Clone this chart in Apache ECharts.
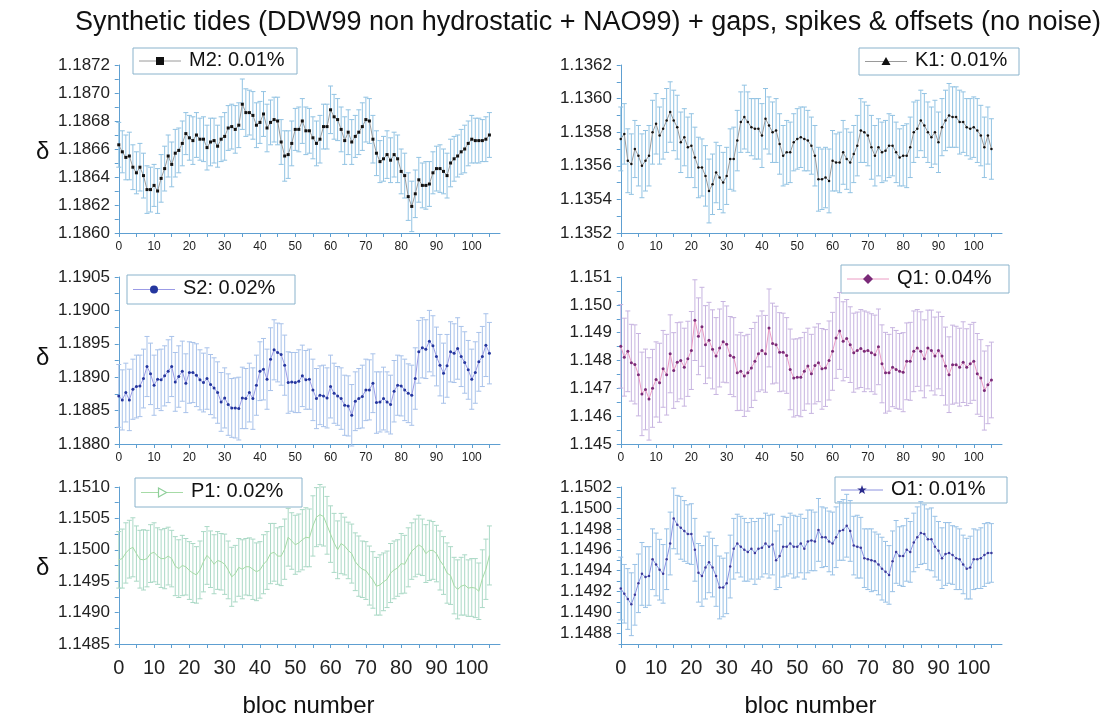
<!DOCTYPE html>
<html><head><meta charset="utf-8">
<script src="https://cdn.jsdelivr.net/npm/echarts@6/dist/echarts.min.js"></script>
<style>html,body{margin:0;padding:0;background:#fff}#c{width:1106px;height:719px}</style>
</head><body><div id="c"></div><script>
const titleText = 'Synthetic tides (DDW99 non hydrostatic + NAO99) + gaps, spikes & offsets (no noise)';
const xTickLabels = [0,10,20,30,40,50,60,70,80,90,100];
const xMinorTicks = [0,5,10,15,20,25,30,35,40,45,50,55,60,65,70,75,80,85,90,95,100,105];

const m2Name = 'M2: 0.01%';
const m2Values = [1.18663,1.18658,1.18654,1.18655,1.18647,1.18643,1.18647,1.18641,1.18631,1.18631,
1.18634,1.18630,1.18639,1.18646,1.18655,1.18649,1.18657,1.18659,1.18664,1.18671,
1.18668,1.18666,1.18670,1.18667,1.18667,1.18661,1.18665,1.18666,1.18662,1.18667,
1.18669,1.18675,1.18676,1.18674,1.18677,1.18692,1.18686,1.18686,1.18684,1.18677,
1.18679,1.18685,1.18675,1.18679,1.18681,1.18680,1.18665,1.18655,1.18656,1.18664,
1.18674,1.18674,1.18680,1.18673,1.18673,1.18668,1.18664,1.18667,1.18676,1.18676,
1.18688,1.18683,1.18681,1.18674,1.18666,1.18672,1.18665,1.18669,1.18672,1.18676,
1.18681,1.18680,1.18667,1.18657,1.18651,1.18653,1.18656,1.18652,1.18656,1.18653,
1.18644,1.18641,1.18626,1.18619,1.18628,1.18638,1.18634,1.18634,1.18635,1.18643,
1.18646,1.18646,1.18644,1.18641,1.18650,1.18653,1.18655,1.18658,1.18660,1.18664,
1.18667,1.18666,1.18666,1.18666,1.18667,1.18670];
const m2ErrE5 = [16,15,16,17,16,15,17,16,17,16,15,16,17,16,15,16,17,16,16,15,16,17,16,15,16,16,17,16,15,16,
17,16,16,17,16,18,17,16,17,16,15,16,17,16,16,17,16,18,17,16,15,16,16,17,16,15,16,17,16,16,
17,16,15,16,17,16,16,15,16,17,16,16,17,16,15,16,17,16,16,17,16,16,17,18,17,16,16,17,16,15,
16,17,16,16,17,16,15,16,17,16,17,16,16,15,16,16];
const m2YTicks = [1.1860,1.1862,1.1864,1.1866,1.1868,1.1870,1.1872];

const k1Name = 'K1: 0.01%';
const k1Values = [1.13576,1.13579,1.13563,1.13561,1.13570,1.13566,1.13560,1.13563,1.13566,1.13580,
1.13585,1.13578,1.13582,1.13587,1.13592,1.13587,1.13583,1.13574,1.13577,1.13571,
1.13572,1.13565,1.13559,1.13559,1.13554,1.13545,1.13549,1.13556,1.13553,1.13550,
1.13554,1.13564,1.13564,1.13575,1.13586,1.13589,1.13586,1.13583,1.13582,1.13582,
1.13578,1.13588,1.13584,1.13580,1.13581,1.13573,1.13566,1.13568,1.13568,1.13574,
1.13576,1.13577,1.13576,1.13575,1.13572,1.13566,1.13552,1.13552,1.13553,1.13551,
1.13563,1.13562,1.13562,1.13568,1.13564,1.13562,1.13567,1.13572,1.13581,1.13580,
1.13578,1.13571,1.13566,1.13571,1.13568,1.13569,1.13572,1.13572,1.13568,1.13565,
1.13566,1.13566,1.13571,1.13580,1.13582,1.13587,1.13584,1.13580,1.13577,1.13580,
1.13574,1.13583,1.13587,1.13590,1.13589,1.13589,1.13586,1.13586,1.13583,1.13582,
1.13583,1.13581,1.13578,1.13571,1.13578,1.13570];
const k1ErrE5 = [19,18,19,18,17,18,19,18,18,19,18,17,18,19,18,18,19,18,17,18,19,18,18,17,18,19,18,18,19,18,
17,18,19,18,18,19,18,17,18,18,19,18,17,18,19,18,18,19,18,17,18,18,19,18,17,18,19,18,18,19,
18,17,18,19,18,18,17,18,19,18,18,19,18,17,18,18,19,18,18,17,18,19,18,18,17,18,19,18,18,19,
18,17,18,19,18,18,19,18,17,18,18,19,18,18,17,18];
const k1YTicks = [1.1352,1.1354,1.1356,1.1358,1.1360,1.1362];

const s2Name = 'S2: 0.02%';
const s2Values = [1.18872,1.18866,1.18877,1.18866,1.18882,1.18886,1.18887,1.18898,1.18916,1.18905,
1.18888,1.18897,1.18896,1.18902,1.18909,1.18916,1.18893,1.18901,1.18909,1.18891,
1.18907,1.18907,1.18903,1.18896,1.18892,1.18898,1.18889,1.18884,1.18877,1.18863,
1.18869,1.18859,1.18854,1.18854,1.18853,1.18869,1.18868,1.18877,1.18868,1.18888,
1.18909,1.18912,1.18897,1.18927,1.18941,1.18937,1.18934,1.18918,1.18892,1.18893,
1.18892,1.18894,1.18902,1.18896,1.18897,1.18881,1.18868,1.18873,1.18872,1.18869,
1.18886,1.18876,1.18872,1.18868,1.18858,1.18857,1.18843,1.18864,1.18868,1.18871,
1.18881,1.18881,1.18891,1.18862,1.18863,1.18868,1.18863,1.18859,1.18879,1.18888,
1.18887,1.18881,1.18876,1.18873,1.18898,1.18938,1.18944,1.18942,1.18954,1.18947,
1.18931,1.18918,1.18906,1.18917,1.18938,1.18936,1.18943,1.18931,1.18922,1.18911,
1.18897,1.18907,1.18923,1.18931,1.18948,1.18936];
const s2ErrE5 = [47,45,44,46,45,47,46,44,45,46,45,44,46,45,47,45,44,46,45,44,46,45,47,45,44,46,45,45,46,44,
45,46,44,45,47,46,45,44,46,45,44,46,45,47,45,44,46,45,46,44,45,47,46,44,45,46,45,44,46,45,
47,45,44,46,45,45,46,44,45,47,46,45,44,46,45,47,45,44,46,45,45,46,44,45,46,47,45,44,46,45,
44,46,45,47,45,44,46,45,46,44,45,46,44,45,47,46];
const s2YTicks = [1.1880,1.1885,1.1890,1.1895,1.1900,1.1905];

const q1Name = 'Q1: 0.04%';
const q1Values = [1.14851,1.14812,1.14833,1.14792,1.14786,1.14749,1.14680,1.14696,1.14662,1.14700,
1.14732,1.14720,1.14770,1.14749,1.14824,1.14764,1.14794,1.14800,1.14776,1.14806,
1.14836,1.14945,1.14887,1.14921,1.14857,1.14873,1.14840,1.14816,1.14845,1.14867,
1.14858,1.14818,1.14812,1.14756,1.14761,1.14744,1.14756,1.14773,1.14797,1.14824,
1.14836,1.14824,1.14917,1.14861,1.14857,1.14830,1.14830,1.14818,1.14768,1.14737,
1.14740,1.14740,1.14761,1.14780,1.14752,1.14782,1.14792,1.14770,1.14773,1.14800,
1.14833,1.14881,1.14906,1.14869,1.14879,1.14857,1.14828,1.14836,1.14843,1.14833,
1.14836,1.14828,1.14821,1.14849,1.14788,1.14756,1.14756,1.14776,1.14768,1.14761,
1.14758,1.14797,1.14797,1.14833,1.14845,1.14833,1.14806,1.14845,1.14836,1.14816,
1.14836,1.14816,1.14780,1.14749,1.14785,1.14785,1.14776,1.14794,1.14776,1.14788,
1.14797,1.14752,1.14737,1.14692,1.14713,1.14730];
const q1ErrE5 = [150,140,145,138,142,148,150,145,148,140,135,142,138,145,140,136,142,138,140,135,
140,145,138,142,140,136,142,138,140,145,138,140,142,136,140,145,138,142,140,136,
142,138,140,145,138,142,140,136,145,140,138,142,140,136,142,138,140,145,138,142,
140,145,138,142,140,136,142,138,140,145,138,140,142,136,140,145,138,142,140,136,
142,138,140,145,138,142,140,136,145,140,138,142,140,136,142,138,140,145,138,142,
140,145,138,142,140,136];
const q1YTicks = [1.145,1.146,1.147,1.148,1.149,1.150,1.151];

const p1Name = 'P1: 0.02%';
const p1Values = [1.14984,1.14986,1.14995,1.15001,1.15004,1.14994,1.14985,1.14984,1.14986,1.14994,
1.14996,1.14990,1.14986,1.14986,1.14990,1.14986,1.14974,1.14970,1.14975,1.14973,
1.14967,1.14963,1.14960,1.14968,1.14981,1.14991,1.14985,1.14977,1.14983,1.14981,
1.14977,1.14968,1.14957,1.14962,1.14972,1.14969,1.14973,1.14973,1.14969,1.14965,
1.14968,1.14977,1.14983,1.14994,1.14996,1.14990,1.14990,1.15001,1.15020,1.15014,
1.15008,1.15011,1.15016,1.15020,1.15019,1.15038,1.15052,1.15056,1.15053,1.15039,
1.15025,1.15011,1.15000,1.15010,1.15006,1.14999,1.14994,1.14981,1.14974,1.14969,
1.14967,1.14959,1.14952,1.14942,1.14944,1.14949,1.14953,1.14963,1.14968,1.14971,
1.14978,1.14977,1.14988,1.14998,1.15003,1.15008,1.15004,1.14994,1.14999,1.14999,
1.14994,1.14983,1.14975,1.14963,1.14959,1.14943,1.14937,1.14942,1.14944,1.14939,
1.14940,1.14939,1.14934,1.14954,1.14969,1.14991];
const p1ErrE5 = [45,47,48,46,47,44,46,48,45,46,47,45,46,48,46,45,47,46,48,45,46,47,45,46,48,46,45,47,46,45,
48,46,47,45,46,47,45,46,48,46,45,47,46,48,46,45,47,48,46,45,47,46,48,47,46,48,47,48,47,46,
45,47,46,48,46,45,47,46,48,45,46,47,45,46,48,46,45,47,46,45,48,46,47,45,46,47,45,46,48,46,
45,47,46,48,46,45,47,46,48,45,46,47,45,46,48,47];
const p1YTicks = [1.1485,1.1490,1.1495,1.1500,1.1505,1.1510];

const o1Name = 'O1: 0.01%';
const o1Values = [1.14923,1.14918,1.14913,1.14908,1.14917,1.14928,1.14937,1.14934,1.14935,1.14951,
1.14946,1.14941,1.14937,1.14951,1.14966,1.14990,1.14984,1.14981,1.14978,1.14975,
1.14975,1.14960,1.14938,1.14935,1.14943,1.14948,1.14943,1.14935,1.14924,1.14924,
1.14928,1.14944,1.14961,1.14966,1.14963,1.14960,1.14958,1.14961,1.14957,1.14961,
1.14962,1.14966,1.14963,1.14965,1.14950,1.14954,1.14963,1.14963,1.14966,1.14963,
1.14963,1.14966,1.14961,1.14968,1.14969,1.14968,1.14979,1.14972,1.14972,1.14968,
1.14966,1.14972,1.14978,1.14979,1.14983,1.14978,1.14964,1.14963,1.14962,1.14952,
1.14951,1.14950,1.14949,1.14946,1.14942,1.14939,1.14936,1.14949,1.14958,1.14954,
1.14954,1.14960,1.14958,1.14967,1.14972,1.14976,1.14975,1.14970,1.14970,1.14963,
1.14959,1.14952,1.14956,1.14957,1.14955,1.14952,1.14951,1.14946,1.14942,1.14943,
1.14951,1.14951,1.14952,1.14955,1.14957,1.14957];
const o1ErrE5 = [30,28,29,30,29,28,30,29,28,29,30,29,28,29,30,29,28,30,29,28,29,30,28,29,30,29,28,29,30,28,
29,30,29,28,29,30,28,29,30,29,28,29,30,29,28,30,29,28,29,30,29,28,29,30,29,28,30,29,28,29,
30,29,28,29,30,29,28,30,29,28,29,30,28,29,30,29,28,29,30,28,29,30,29,28,29,30,28,29,30,29,
28,29,30,29,28,30,29,28,29,30,29,28,29,30,29,28];
const o1YTicks = [1.1488,1.1490,1.1492,1.1494,1.1496,1.1498,1.1500,1.1502];

const FONT = '"Liberation Sans", Arial, Helvetica, sans-serif';
const AXIS = '#5e9fd1';

const panels = [
  {name:m2Name, vals:m2Values, err:m2ErrE5, yt:m2YTicks, min:1.1860, max:1.1872, dec:4,
   grid:{left:117,top:65,width:383,height:168},
   line:'#9a9a9a', pt:'#111111', eb:'#92c3e3', sym:'rect', ss:3, bottom:false},
  {name:k1Name, vals:k1Values, err:k1ErrE5, yt:k1YTicks, min:1.1352, max:1.1362, dec:4,
   grid:{left:619,top:65,width:383,height:168},
   line:'#9a9a9a', pt:'#111111', eb:'#92c3e3', sym:'circle', ss:2.5, bottom:false},
  {name:s2Name, vals:s2Values, err:s2ErrE5, yt:s2YTicks, min:1.1880, max:1.1905, dec:4,
   grid:{left:117,top:277,width:383,height:167},
   line:'#9b9be6', pt:'#24369e', eb:'#a8c2ea', sym:'circle', ss:3, bottom:false},
  {name:q1Name, vals:q1Values, err:q1ErrE5, yt:q1YTicks, min:1.145, max:1.151, dec:3,
   grid:{left:619,top:277,width:383,height:167},
   line:'#ec9cc4', pt:'#7a2a78', eb:'#c7b4e0', sym:'circle', ss:3, bottom:false},
  {name:p1Name, vals:p1Values, err:p1ErrE5, yt:p1YTicks, min:1.1485, max:1.1510, dec:4,
   grid:{left:117,top:487,width:383,height:168},
   line:'#a6dba6', pt:'#a6dba6', eb:'#abd9c6', sym:'none', ss:3, bottom:true},
  {name:o1Name, vals:o1Values, err:o1ErrE5, yt:o1YTicks, min:1.1487, max:1.1502, dec:4,
   grid:{left:619,top:487,width:383,height:168},
   line:'#8c92e0', pt:'#3a3a9a', eb:'#98c1e6', sym:'circle', ss:2.5, bottom:true}
];

function minorOf(ticks){
  const out = [];
  for (let k=0;k<ticks.length;k++){
    out.push(ticks[k]);
    if (k<ticks.length-1) out.push((ticks[k]+ticks[k+1])/2);
  }
  return out;
}

const grids=[], xAxes=[], yAxes=[], series=[];
panels.forEach((p, i) => {
  grids.push(Object.assign({containLabel:false}, p.grid));
  xAxes.push({
    type:'value', gridIndex:i, min:-0.5, max:108,
    axisLine:{show:true, lineStyle:{color:AXIS, width:1}},
    axisTick:{show:true, customValues:xMinorTicks, length:4, lineStyle:{color:AXIS}},
    axisLabel:{customValues:xTickLabels, color:'#222', fontFamily:FONT,
      fontSize:p.bottom?20:12, margin:p.bottom?14:8},
    splitLine:{show:false},
    name:p.bottom?'bloc number':'', nameLocation:'middle', nameGap:50,
    nameTextStyle:{fontSize:24, color:'#111', fontFamily:FONT}
  });
  yAxes.push({
    type:'value', gridIndex:i, min:p.min, max:p.max,
    axisLine:{show:true, lineStyle:{color:AXIS, width:1}},
    axisTick:{show:true, customValues:minorOf(p.yt), length:4, lineStyle:{color:AXIS}},
    axisLabel:{customValues:p.yt, color:'#222', fontFamily:FONT, fontSize:17, margin:7,
      formatter:(v)=>Number(v).toFixed(p.dec)},
    splitLine:{show:false}
  });
  const errData = p.vals.map((v,k)=>[k, v - p.err[k]*1e-5, v + p.err[k]*1e-5]);
  const ebColor = p.eb;
  series.push({
    type:'custom', xAxisIndex:i, yAxisIndex:i, z:1, silent:true,
    encode:{x:0, y:[1,2]},
    data:errData,
    renderItem:(params, api)=>{
      const x = api.value(0);
      const lo = api.coord([x, api.value(1)]);
      const hi = api.coord([x, api.value(2)]);
      const st = {stroke:ebColor, lineWidth:1};
      const c = 2.5;
      return {type:'group', children:[
        {type:'line', shape:{x1:lo[0],y1:lo[1],x2:hi[0],y2:hi[1]}, style:st},
        {type:'line', shape:{x1:lo[0]-c,y1:lo[1],x2:lo[0]+c,y2:lo[1]}, style:st},
        {type:'line', shape:{x1:hi[0]-c,y1:hi[1],x2:hi[0]+c,y2:hi[1]}, style:st}
      ]};
    }
  });
  series.push({
    type:'line', name:p.name, xAxisIndex:i, yAxisIndex:i, z:3,
    data:p.vals.map((v,k)=>[k,v]),
    symbol:p.sym, symbolSize:p.ss, showSymbol:p.sym!=='none',
    lineStyle:{color:p.line, width:1},
    itemStyle:{color:p.pt, borderColor:p.pt, borderWidth:0},
    emphasis:{disabled:true}, animation:false
  });
});

// legend boxes (one per panel, each with its own marker shape)
const legendSpec = [
  {kind:'rect', fill:'#111111', stroke:null},
  {kind:'tri', fill:'#111111', stroke:null},
  {kind:'circle', fill:'#24369e', stroke:null},
  {kind:'diamond', fill:'#7a2a78', stroke:null},
  {kind:'rtri', fill:'#ffffff', stroke:'#8fcf9a'},
  {kind:'star', fill:'#2a2a8c', stroke:null}
];
const legendBox = [
  {x:133,y:48,w:164,h:26},
  {x:859,y:48,w:160,h:27},
  {x:127,y:275,w:168,h:29},
  {x:841,y:265,w:168,h:28},
  {x:135,y:478,w:167,h:29},
  {x:835,y:477,w:172,h:26}
];
function markerShape(kind, mx, cy){
  const P = (arr)=>arr.map(q=>[mx+q[0], cy+q[1]]);
  if (kind==='rect') return P([[-4,-4],[4,-4],[4,4],[-4,4]]);
  if (kind==='tri') return P([[0,-4.5],[4.5,3.5],[-4.5,3.5]]);
  if (kind==='diamond') return P([[0,-5],[5,0],[0,5],[-5,0]]);
  if (kind==='rtri') return P([[4.5,0],[-3.5,-4.5],[-3.5,4.5]]);
  if (kind==='star') return P([[0,-5],[1.2,-1.6],[4.8,-1.6],[1.9,0.6],[3,4],[0,1.9],[-3,4],[-1.9,0.6],[-4.8,-1.6],[-1.2,-1.6]]);
  return null;
}
const legendGraphics = [];
panels.forEach((p,i)=>{
  const b = legendBox[i], s = legendSpec[i];
  const cy = b.y + b.h/2;
  const lx1 = b.x + 6, lx2 = b.x + 48, mx = (lx1+lx2)/2;
  const children = [
    {type:'rect', shape:{x:b.x, y:b.y, width:b.w, height:b.h},
     style:{fill:'#ffffff', stroke:'#8ab3cc', lineWidth:1}},
    {type:'line', shape:{x1:lx1, y1:cy, x2:lx2, y2:cy}, style:{stroke:p.line, lineWidth:1}}
  ];
  if (s.kind === 'circle') {
    children.push({type:'circle', shape:{cx:mx, cy:cy, r:4}, style:{fill:s.fill}});
  } else {
    children.push({type:'polygon', shape:{points:markerShape(s.kind, mx, cy)},
      style:{fill:s.fill, stroke:s.stroke||null, lineWidth:1.2}});
  }
  children.push({type:'text', x:b.x + 56, y:cy - 11, style:{text:p.name, fontSize:20,
    fill:'#111', fontFamily:FONT}});
  legendGraphics.push({type:'group', z:50, children:children});
});

const option = {
  animation:false,
  backgroundColor:'#ffffff',
  title:{text:titleText, left:583, top:4, textAlign:'center',
    textStyle:{fontSize:27, fontWeight:'normal', color:'#111', fontFamily:FONT}},
  grid:grids, xAxis:xAxes, yAxis:yAxes, series:series,
  graphic:[
    {type:'text', left:36, top:140, style:{text:'δ', fontSize:24, fill:'#111', fontFamily:FONT}},
    {type:'text', left:36, top:346, style:{text:'δ', fontSize:24, fill:'#111', fontFamily:FONT}},
    {type:'text', left:36, top:556, style:{text:'δ', fontSize:24, fill:'#111', fontFamily:FONT}}
  ].concat(legendGraphics)
};
const chart = echarts.init(document.getElementById('c'), null, {renderer:'canvas'});
chart.setOption(option);
</script></body></html>
